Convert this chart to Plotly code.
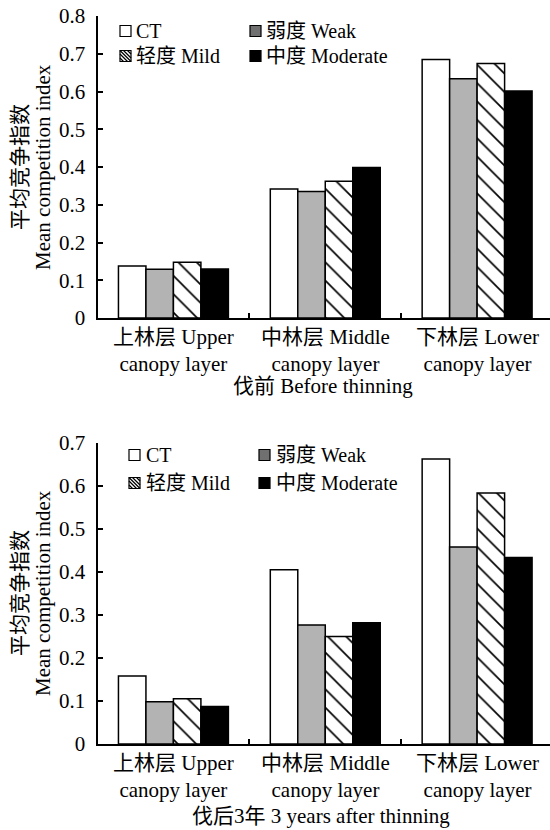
import plotly.graph_objects as go

W, H = 550, 830

categories = ["上林层 Upper<br>canopy layer", "中林层 Middle<br>canopy layer", "下林层 Lower<br>canopy layer"]
series_names = ["CT", "弱度 Weak", "轻度 Mild", "中度 Moderate"]

before_ct = [0.138, 0.342, 0.685]
before_weak = [0.129, 0.335, 0.634]
before_mild = [0.148, 0.362, 0.674]
before_moderate = [0.130, 0.399, 0.601]

after_ct = [0.158, 0.405, 0.663]
after_weak = [0.098, 0.277, 0.458]
after_mild = [0.105, 0.250, 0.584]
after_moderate = [0.087, 0.282, 0.434]

top_ticks = [0, 0.1, 0.2, 0.3, 0.4, 0.5, 0.6, 0.7, 0.8]
top_ticklabels = ["0", "0.1", "0.2", "0.3", "0.4", "0.5", "0.6", "0.7", "0.8"]
bottom_ticks = [0, 0.1, 0.2, 0.3, 0.4, 0.5, 0.6, 0.7]
bottom_ticklabels = ["0", "0.1", "0.2", "0.3", "0.4", "0.5", "0.6", "0.7"]

FONT = "Liberation Serif, Noto Sans CJK SC, serif"

styles = [
    dict(color="white", pattern=None),
    dict(color="#b3b3b3", pattern=None),
    dict(color="white", pattern=dict(shape="\\", fgcolor="black", bgcolor="white", size=13, solidity=0.13)),
    dict(color="black", pattern=None),
]

fig = go.Figure()

def add_group(vals_list, xa, ya):
    for name, vals, st in zip(series_names, vals_list, styles):
        marker = dict(color=st["color"], line=dict(color="black", width=1.5))
        if st["pattern"]:
            marker["pattern"] = st["pattern"]
        fig.add_trace(go.Bar(x=categories, y=vals, name=name, marker=marker,
                             xaxis=xa, yaxis=ya, showlegend=False))

add_group([before_ct, before_weak, before_mild, before_moderate], "x", "y")
add_group([after_ct, after_weak, after_mild, after_moderate], "x2", "y2")

def px(x):
    return x / W

def py(y):
    return 1 - y / H

x_dom = [px(97.5), 1.0]
xrange = [-0.5, 2.48]

axis_common = dict(showline=True, linecolor="black", linewidth=2, ticks="inside",
                   ticklen=5, tickwidth=1.5, tickcolor="black", showgrid=False,
                   zeroline=False, automargin=False,
                   tickfont=dict(family=FONT, size=21, color="black"))

fig.update_layout(
    template="none",
    width=W, height=H,
    margin=dict(l=0, r=0, t=0, b=0, pad=0),
    paper_bgcolor="white", plot_bgcolor="white",
    barmode="group", bargap=0.276, bargroupgap=0,
    showlegend=False,
    font=dict(family=FONT, size=21, color="black"),
    xaxis=dict(domain=x_dom, range=xrange, anchor="y", tickson="boundaries",
               showticklabels=False, **axis_common),
    yaxis=dict(domain=[py(318), py(16)], range=[0, 0.8], anchor="x",
               tickvals=top_ticks, ticktext=top_ticklabels, ticklabelstandoff=6, **axis_common),
    xaxis2=dict(domain=x_dom, range=xrange, anchor="y2", tickson="boundaries",
                showticklabels=False, **axis_common),
    yaxis2=dict(domain=[py(744), py(443)], range=[0, 0.7], anchor="x2",
                tickvals=bottom_ticks, ticktext=bottom_ticklabels, ticklabelstandoff=6, **axis_common),
)

annotations = []
shapes = []

def text(x, y, s, size=21, angle=0, xanchor="center"):
    annotations.append(dict(x=px(x), y=py(y), xref="paper", yref="paper", text=s,
                            showarrow=False, xanchor=xanchor, yanchor="middle",
                            textangle=angle, font=dict(family=FONT, size=size, color="black")))

# category labels placed through the category axes
for xref, ycenter in [("x", 350), ("x2", 776)]:
    for c in categories:
        annotations.append(dict(x=c, y=py(ycenter), xref=xref, yref="paper", text=c,
                                showarrow=False, xanchor="center", yanchor="middle",
                                font=dict(family=FONT, size=21, color="black")))

# axis titles
text(20, 167, "平均竞争指数", angle=-90)
text(43, 167, "Mean competition index", angle=-90)
text(20, 593, "平均竞争指数", angle=-90)
text(43, 593, "Mean competition index", angle=-90)
text(323, 386, "伐前 Before thinning")
text(321, 816, "伐后3年 3 years after thinning")

# legends
legend_fill = ["white", "#707070", "hatch", "black"]

def key(x0, yc, fill):
    s = 11
    y0, y1 = yc - s / 2, yc + s / 2
    x1 = x0 + s
    shapes.append(dict(type="rect", xref="paper", yref="paper",
                       x0=px(x0), x1=px(x1), y0=py(y1), y1=py(y0),
                       fillcolor="white" if fill == "hatch" else fill,
                       line=dict(color="black", width=1.2)))
    if fill == "hatch":
        for d in [3.5, 7.5]:
            shapes.append(dict(type="line", xref="paper", yref="paper",
                               x0=px(x0), y0=py(y0 + d), x1=px(x1 - d), y1=py(y1),
                               line=dict(color="black", width=1.2)))
            shapes.append(dict(type="line", xref="paper", yref="paper",
                               x0=px(x0 + d), y0=py(y0), x1=px(x1), y1=py(y1 - d),
                               line=dict(color="black", width=1.2)))
        shapes.append(dict(type="line", xref="paper", yref="paper",
                           x0=px(x0), y0=py(y0), x1=px(x1), y1=py(y1),
                           line=dict(color="black", width=1.2)))

def legend(positions):
    for (bx, yc, tx), name, fill in zip(positions, series_names, legend_fill):
        key(bx, yc, fill)
        text(tx, yc, name, size=20, xanchor="left")

legend([(120, 31, 134), (250, 31, 264), (120, 56, 134), (250, 56, 264)])
legend([(129, 455, 144), (259, 455, 274), (129, 483, 144), (259, 483, 274)])

fig.update_layout(annotations=annotations, shapes=shapes)

fig.write_html("out.html", config={"displayModeBar": False},
               post_script="document.body.style.margin='0';document.body.style.overflow='hidden';")
